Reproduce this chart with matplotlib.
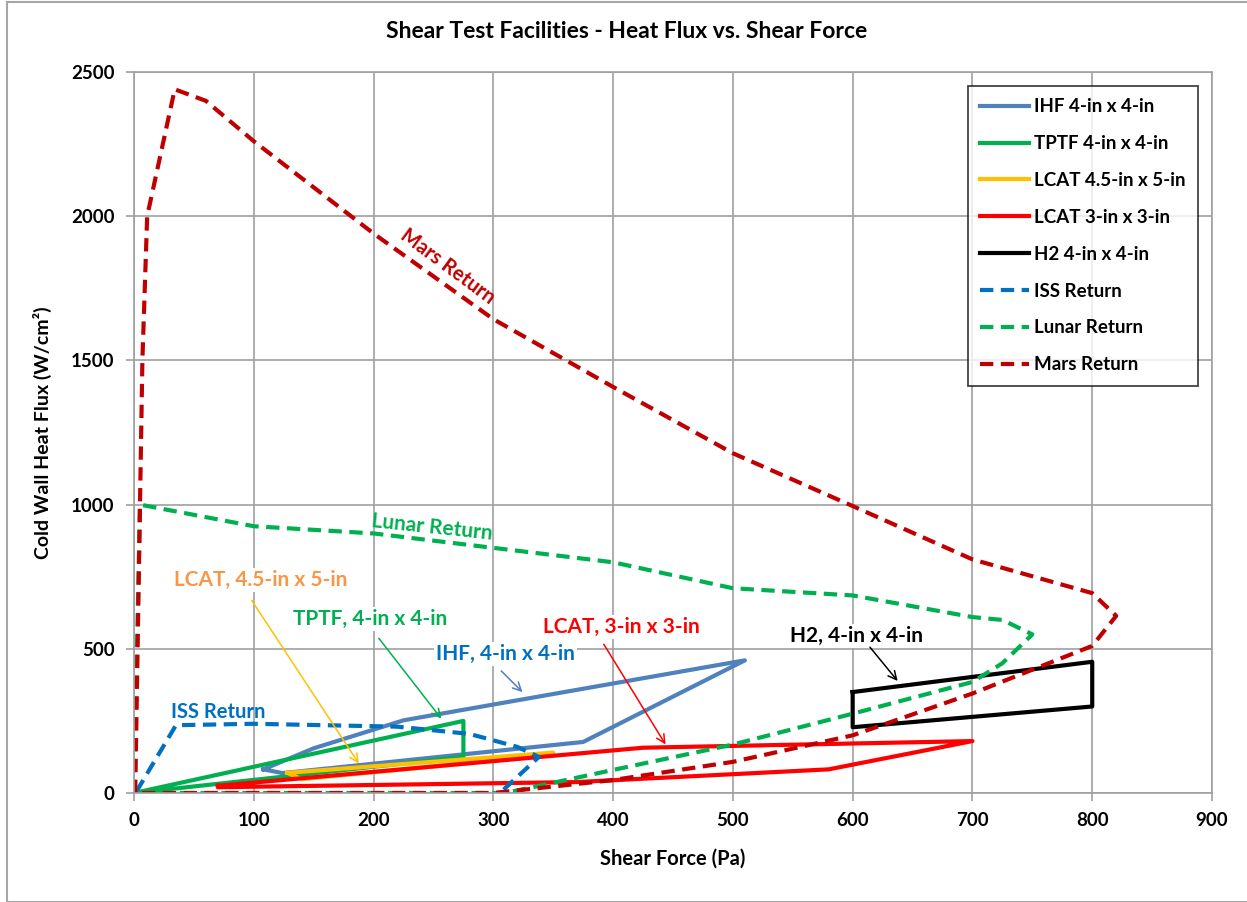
import matplotlib.pyplot as plt
from matplotlib.patches import Rectangle

plt.rcParams['font.family'] = ['Lato', 'DejaVu Sans']
plt.rcParams['font.weight'] = 'bold'

# series (x = shear force Pa, y = heat flux W/cm2)
ihf_x = [108, 150, 225, 510, 375, 124, 108]
ihf_y = [82, 155, 252, 460, 177, 69, 82]
tptf_x = [0, 275, 275, 0]
tptf_y = [0, 250, 125, 0]
lcat45_x = [128, 350, 340, 140, 128]
lcat45_y = [70, 140, 128, 48, 70]
lcat3_x = [70, 425, 700, 580, 370, 70, 70]
lcat3_y = [25, 157, 180, 82, 38, 20, 25]
h2_x = [600, 800, 800, 600, 600]
h2_y = [350, 455, 300, 228, 350]
iss_x = [2, 35, 100, 220, 280, 320, 338, 306]
iss_y = [5, 235, 240, 230, 205, 160, 125, 2]
lunar_x = [0, 5, 100, 200, 300, 400, 500, 600, 700, 725, 750, 725, 700, 600, 500, 400, 310, 0]
lunar_y = [0, 1000, 925, 900, 850, 800, 710, 685, 610, 600, 550, 450, 385, 275, 168, 80, 0, 0]
mars_x = [1, 3, 5, 7, 11, 34, 60, 100, 200, 300, 400, 500, 600, 700, 800, 820, 800, 700, 600, 500, 400, 300, 0]
mars_y = [0, 500, 1000, 1500, 2000, 2440, 2400, 2260, 1940, 1643, 1408, 1178, 995, 810, 693, 614, 510, 345, 200, 108, 45, 0, 0]

fig = plt.figure(figsize=(12.47, 9.02), dpi=100)
ax = fig.add_axes([134/1247, 1-793/902, (1212-134)/1247, (793-72)/902])

# outer chart border
fig.patches.append(Rectangle((7/1247, 0), 1.0, 1-2/902, transform=fig.transFigure,
                             fill=False, ec='#A6A6A6', lw=1.5, zorder=0))

lw = 3
dash = (3.2, 1.8)
ax.plot(ihf_x, ihf_y, color='#4F81BD', lw=lw, label='IHF 4-in x 4-in')
ax.plot(tptf_x, tptf_y, color='#00B050', lw=lw, label='TPTF 4-in x 4-in')
ax.plot(lcat45_x, lcat45_y, color='#FFC000', lw=lw, label='LCAT 4.5-in x 5-in')
ax.plot(lcat3_x, lcat3_y, color='#FF0000', lw=lw, label='LCAT 3-in x 3-in')
ax.plot(h2_x, h2_y, color='#000000', lw=lw, label='H2 4-in x 4-in')
ax.plot(iss_x, iss_y, color='#0070C0', lw=lw, dashes=dash, label='ISS Return')
ax.plot(lunar_x, lunar_y, color='#00B050', lw=lw, dashes=dash, label='Lunar Return')
ax.plot(mars_x, mars_y, color='#C00000', lw=lw, dashes=dash, label='Mars Return')

ax.set_xlim(0, 900)
ax.set_ylim(0, 2500)
ax.set_xticks(range(0, 901, 100))
ax.set_yticks(range(0, 2501, 500))
ax.grid(True, color='#A0A0A0', lw=1.2)
ax.set_axisbelow(True)
for s in ax.spines.values():
    s.set_color('#A0A0A0')
    s.set_linewidth(1.2)
ax.tick_params(colors='#A0A0A0', labelcolor='black', labelsize=13.5, length=6, width=1.2, pad=8)

# title is centred on the whole chart, not the plot area
fig.text(627/1247, 1-32/902, 'Shear Test Facilities - Heat Flux vs. Shear Force',
         fontsize=16.5, fontweight='bold', ha='center', va='center')
ax.set_xlabel('Shear Force (Pa)', fontsize=14.5, fontweight='bold', labelpad=14)
ax.set_ylabel('Cold Wall Heat Flux (W/cm²)', fontsize=14, fontweight='bold', labelpad=14)

leg = ax.legend(loc='upper right', bbox_to_anchor=(1198/1247, 1-86/902), bbox_transform=fig.transFigure,
                borderaxespad=0, fontsize=13.5, frameon=True, fancybox=False, edgecolor='black',
                handlelength=2.6, handletextpad=0.3, labelspacing=1.06, borderpad=0.65)
leg.get_frame().set_linewidth(1.2)

# curve labels
ax.text(262, 1824, 'Mars Return', color='#C00000', fontsize=14.5, rotation=-36.5, ha='center', va='center')
ax.text(249, 922, 'Lunar Return', color='#00B050', fontsize=15, rotation=-6, ha='center', va='center')
ax.text(70, 281, 'ISS Return', color='#0070C0', fontsize=14.5, ha='center', va='center')

bb = dict(facecolor='white', edgecolor='none', pad=1.5)
notes = [
    ('LCAT, 4.5-in x 5-in', '#F79646', '#FFC000', (106, 739), (97, 676), (189, 94)),
    ('TPTF, 4-in x 4-in', '#00B050', '#00B050', (197, 603), (203, 544), (258, 250)),
    ('IHF, 4-in x 4-in', '#0070C0', '#4F81BD', (310, 482), (305, 430), (326, 343)),
    ('LCAT, 3-in x 3-in', '#FF0000', '#FF0000', (407, 576), (391, 524), (445, 160)),
    ('H2, 4-in x 4-in', '#000000', '#000000', (603, 544), (613, 513), (639, 381)),
]
for txt, tc, ac, pos, start, tip in notes:
    ax.text(pos[0], pos[1], txt, color=tc, fontsize=15, ha='center', va='center', bbox=bb, zorder=5)
    ax.annotate('', xy=tip, xytext=start,
                arrowprops=dict(arrowstyle='->,head_length=0.6,head_width=0.3', color=ac, lw=1.1), zorder=6)

plt.savefig('out.png', dpi=100)
